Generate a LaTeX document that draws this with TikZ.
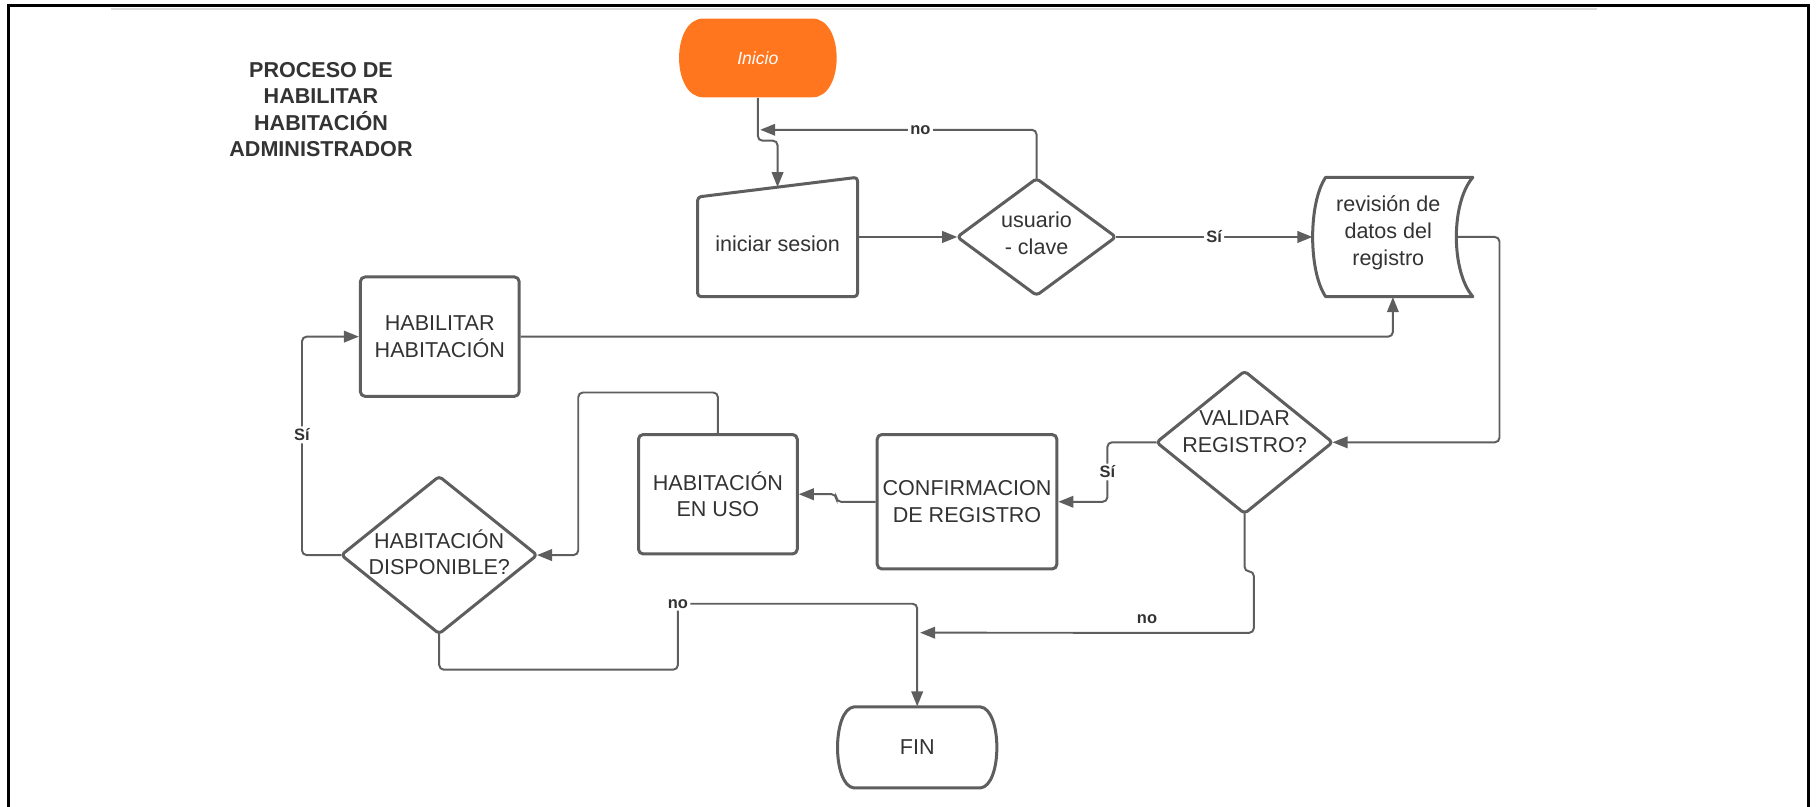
\documentclass[tikz,border=0pt]{standalone}
\usepackage{fontspec}
\setmainfont{Liberation Sans}
\usetikzlibrary{arrows.meta,calc}
\definecolor{lc}{HTML}{5E5E5E}
\definecolor{tc}{HTML}{333333}
\definecolor{org}{HTML}{FF761F}
\definecolor{gl}{HTML}{DADADA}
\begin{document}
\begin{tikzpicture}[x=0.5pt,y=-0.5pt,
  box/.style={draw=none, inner sep=0pt, text=tc, font=\fontsize{9.3}{11.5}\selectfont, align=center},
  shp/.style={draw=lc, line width=1.3pt, rounded corners=1.5pt, fill=white, line join=round},
  cshp/.style={draw=lc, line width=1.3pt, fill=white, line join=round},
  conn/.style={draw=lc, line width=0.85pt, rounded corners=2pt},
  arr/.style={conn, -{Triangle[length=6.5pt,width=5pt]}},
  lbl/.style={fill=white, inner sep=1pt, text=tc, font=\fontsize{7.1}{8}\selectfont\bfseries},
]
\useasboundingbox (0,0) rectangle (1568,695.6);
% frame
\draw[line width=1.3pt, black] (7,700) -- (7,5) -- (1561,5) -- (1561,700);
\draw[line width=1pt, gl] (96,7.8) -- (1378,7.8);

% title
\node[box, font=\fontsize{9.3}{11.3}\selectfont\bfseries] (title) at (277,94.5)
  {PROCESO DE\\HABILITAR\\HABITACIÓN\\ADMINISTRADOR};

% Inicio
\fill[org] (607,16) -- (701,16) .. controls (729,16) and (729,84) .. (701,84)
  -- (607,84) .. controls (579,84) and (579,16) .. (607,16) -- cycle;
\node[box, minimum width=68pt, minimum height=34pt, text=white,
  font=\fontsize{7.6}{9}\selectfont\itshape] (inicio) at (654,50) {Inicio};

% iniciar sesion (manual input)
\draw[shp] (602,170) -- (740,153) -- (740,256) -- (602,256) -- cycle;
\node[box, minimum width=69pt, minimum height=51.5pt] (ses) at (671,204.5) {};
\node[box] (sesT) at (671,210) {iniciar sesion};
\coordinate (sesTop) at (671,161.5);

% usuario - clave
\node[box, minimum width=68pt, minimum height=50pt] (usu) at (894.5,204.5) {};
\draw[shp] (usu.north) -- (usu.east) -- (usu.south) -- (usu.west) -- cycle;
\node[box] (usuT) at (894.5,201.5) {usuario\\- clave};

% revision de datos (stored data)
\node[box, minimum width=69pt, minimum height=51.5pt] (rev) at (1202,204.5) {};
\draw[cshp] (1144,153) -- (1271,153) .. controls (1252,175) and (1252,234) .. (1271,256)
  -- (1144,256) .. controls (1129,234) and (1129,175) .. (1144,153) -- cycle;
\node[box] (revT) at (1198,201) {revisión de\\datos del\\registro};
\coordinate (revE) at (1257,204.5);

% HABILITAR HABITACION
\node[box, shp, rounded corners=2pt, minimum width=68.5pt, minimum height=51.5pt] (habil)
  at (379.5,290.5) {HABILITAR\\HABITACIÓN};

% HABITACION DISPONIBLE?
\node[box, minimum width=84pt, minimum height=67.5pt] (disp) at (379,479) {};
\draw[shp] (disp.north) -- (disp.east) -- (disp.south) -- (disp.west) -- cycle;
\node[box] (dispT) at (379,476.5) {HABITACIÓN\\DISPONIBLE?};

% HABITACION EN USO
\node[box, shp, rounded corners=2pt, minimum width=68.5pt, minimum height=51.5pt] (enuso)
  at (619.5,426.5) {HABITACIÓN\\EN USO};

% CONFIRMACION DE REGISTRO
\node[box, shp, rounded corners=2pt, minimum width=77.5pt, minimum height=58pt] (conf)
  at (834.5,433) {CONFIRMACION\\DE REGISTRO};

% VALIDAR REGISTRO?
\node[box, minimum width=75.5pt, minimum height=61pt] (valid) at (1074,381.7) {};
\draw[shp] (valid.north) -- (valid.east) -- (valid.south) -- (valid.west) -- cycle;
\node[box] (validT) at (1074,372.4) {VALIDAR\\REGISTRO?};

% FIN
\draw[cshp] (737,610) -- (846,610) .. controls (865,612) and (865,678) .. (846,680)
  -- (737,680) .. controls (718,678) and (718,612) .. (737,610) -- cycle;
\node[box, minimum width=68.5pt, minimum height=35pt] (fin) at (791.5,645) {FIN};

% connectors
\coordinate (noIn) at (656,112);
\coordinate (finJ) at (794,546);
\coordinate (noB) at (585,521);

\draw[arr] (inicio.south) -- ++(0,37) -| (sesTop);
\draw[arr] (usu.north) -- (usu.north |- noIn) -- node[lbl, pos=0.42] (noA) {no} (noIn);
\draw[arr] (ses.east) -- (usu.west);
\draw[arr] (usu.east) -- node[lbl] (siA) {Sí} (rev.west);
\draw[arr] (revE) -- ++(37,0) |- (valid.east);
\draw[arr] (habil.east) -| (rev.south);
\draw[arr] (disp.west) -- ++(-34,0) -- node[lbl, pos=0.55] (siB) {Sí} ++(0,-188.5) -- (habil.west);
\draw[arr] (enuso.north) -- ++(0,-35) -- ++(-120.5,0) |- (disp.east);
\draw[arr] (conf.west) -- ++(-34,0) |- (enuso.east);
\draw[arr] (valid.west) -- ++(-42.5,0) |- node[lbl, pos=0.25] (siC) {Sí} (conf.east);
\draw[arr] (valid.south) -- ++(0,50) -| ++(8,53) -- node[lbl, pos=0.32, above=2.5pt, fill=none] (noC) {no} (finJ);
\draw[arr] (disp.south) -- ++(0,31) -| (noB) node[lbl] (noD) {no} -| (fin.north);
\end{tikzpicture}
\end{document}
